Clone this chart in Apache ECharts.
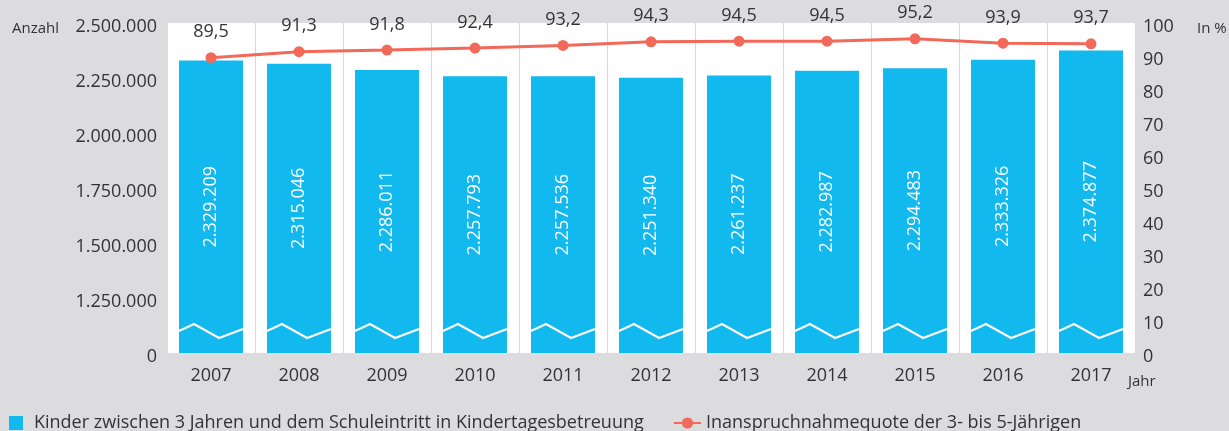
<!DOCTYPE html>
<html>
<head>
<meta charset="utf-8">
<script src="https://cdn.jsdelivr.net/npm/echarts@6/dist/echarts.min.js"></script>
<style>
  html, body { margin: 0; padding: 0; background: #dcdcde; }
  #chart { width: 1229px; height: 431px; }
</style>
</head>
<body>
<div id="chart"></div>
<script>
// chart data
const years = ["2007", "2008", "2009", "2010", "2011", "2012", "2013", "2014", "2015", "2016", "2017"];
const kinder = [2329209, 2315046, 2286011, 2257793, 2257536, 2251340, 2261237, 2282987, 2294483, 2333326, 2374877];
const quote = [89.5, 91.3, 91.8, 92.4, 93.2, 94.3, 94.5, 94.5, 95.2, 93.9, 93.7];
// left axis is broken: the lowest tick stands for 0
const axisStart = 1000000;
const breakValue = 1100000;

const barName = "Kinder zwischen 3 Jahren und dem Schuleintritt in Kindertagesbetreuung";
const lineName = "Inanspruchnahmequote der 3- bis 5-Jährigen";

const font = "'Open Sans', sans-serif";
const blue = "#12b9ee";
const red = "#f26959";
const textColor = "#333";

const fmtNum = (v) => String(v).replace(/\B(?=(\d{3})+(?!\d))/g, ".");

// tick labels sit a little below their tick in the original
const tickRich = { t: { fontSize: 18, color: textColor, fontFamily: font, padding: [7, 0, 0, 0] } };

const chart = echarts.init(document.getElementById("chart"));

chart.setOption({
  backgroundColor: "#dcdcde",
  textStyle: { fontFamily: font },
  animation: false,
  grid: {
    left: 167, right: 94, top: 23, bottom: 78,
    show: true, backgroundColor: "#ffffff", borderWidth: 0
  },
  legend: [
    {
      left: 4, top: 409,
      itemWidth: 14, itemHeight: 14,
      textStyle: { fontFamily: font, fontSize: 18, color: textColor, padding: [0, 0, 0, 6] },
      data: [{ name: barName, icon: "rect", itemStyle: { color: blue } }]
    },
    {
      left: 668, top: 409,
      itemWidth: 27, itemHeight: 14,
      textStyle: { fontFamily: font, fontSize: 18, color: textColor },
      data: [{ name: lineName }]
    }
  ],
  graphic: [
    { type: "text", left: 12, top: 21, style: { text: "Anzahl", font: "15px " + font, fill: textColor } },
    { type: "text", left: 1197, top: 21, style: { text: "In %", font: "15px " + font, fill: textColor } },
    { type: "text", left: 1128, top: 374, style: { text: "Jahr", font: "15px " + font, fill: textColor } }
  ],
  xAxis: {
    type: "category",
    data: years,
    axisLine: { show: false },
    axisTick: { show: false },
    axisLabel: { fontSize: 18, color: textColor, margin: 14 },
    splitLine: { show: true, interval: 0, lineStyle: { color: "#d9d9d9", width: 1 } }
  },
  yAxis: [
    {
      type: "value",
      min: axisStart, max: 2500000, interval: 250000,
      axisLine: { show: false },
      axisTick: { show: false },
      splitLine: { show: false },
      axisLabel: {
        margin: 10,
        rich: tickRich,
        formatter: (v) => "{t|" + (v === axisStart ? "0" : fmtNum(v)) + "}"
      }
    },
    {
      type: "value",
      min: 0, max: 100, interval: 10,
      axisLine: { show: false },
      axisTick: { show: false },
      splitLine: { show: false },
      axisLabel: {
        margin: 8,
        rich: tickRich,
        formatter: (v) => "{t|" + v + "}"
      }
    }
  ],
  series: [
    {
      name: barName,
      type: "bar",
      data: kinder,
      barWidth: "72.7%",
      itemStyle: { color: blue },
      label: {
        show: true,
        position: "inside",
        rotate: 90,
        color: "#fff",
        fontSize: 18,
        formatter: (p) => fmtNum(p.value)
      },
      z: 2
    },
    {
      // white zigzag break marks on the bars
      name: "break",
      type: "custom",
      data: years.map((y, i) => [i, breakValue]),
      renderItem: (params, api) => {
        const pt = api.coord([api.value(0), api.value(1)]);
        const x = pt[0], y = pt[1];
        return {
          type: "polyline",
          shape: { points: [[x - 32, y], [x - 17, y - 7], [x + 8, y + 7], [x + 32, y - 2]] },
          style: { stroke: "#fff", lineWidth: 2.2, fill: null }
        };
      },
      silent: true,
      z: 3
    },
    {
      name: lineName,
      type: "line",
      yAxisIndex: 1,
      data: quote,
      color: red,
      lineStyle: { color: red, width: 3 },
      itemStyle: { color: red },
      symbol: "circle",
      symbolSize: 11,
      label: {
        show: true,
        position: "top",
        distance: 11,
        fontSize: 18,
        color: textColor,
        formatter: (p) => p.value.toFixed(1).replace(".", ",")
      },
      z: 4
    }
  ]
});
</script>
</body>
</html>
